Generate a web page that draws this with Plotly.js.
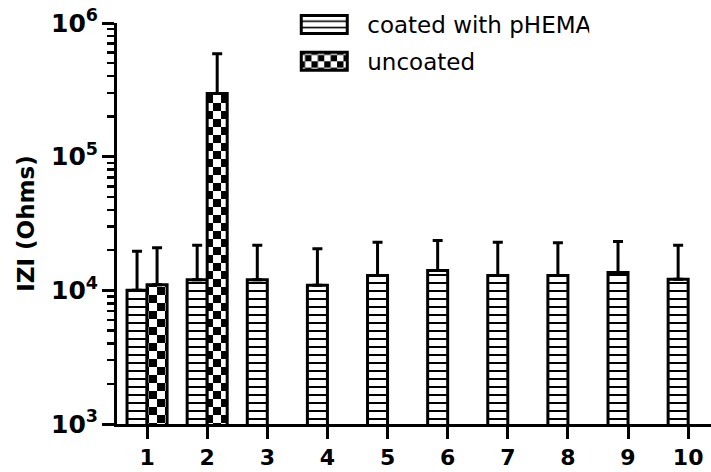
<!DOCTYPE html>
<html>
<head>
<meta charset="utf-8">
<script src="https://cdn.plot.ly/plotly-3.0.1.min.js"></script>
<style>
html,body{margin:0;padding:0;background:#fff;}
#chart{width:711px;height:472px;}
</style>
</head>
<body>
<div id="chart"></div>
<script>
// ---- data ----
const categories = [1, 2, 3, 4, 5, 6, 7, 8, 9, 10];
const tickLabels = ['1', '2', '3', '4', '5', '6', '7', '8', '9', '10'];
const seriesNames = ['coated with pHEMA', 'uncoated'];
const coatedValues = [1.0e4, 1.2e4, 1.2e4, 1.09e4, 1.29e4, 1.41e4, 1.29e4, 1.29e4, 1.36e4, 1.21e4];
const coatedErrors = [0.96e4, 0.97e4, 0.97e4, 0.96e4, 1.0e4, 0.95e4, 1.0e4, 0.98e4, 0.96e4, 0.96e4];
const uncoatedValues = [1.10e4, 2.97e5, null, null, null, null, null, null, null, null];
const uncoatedErrors = [0.98e4, 2.93e5, null, null, null, null, null, null, null, null];
const zeros = categories.map(() => 0);

const boldFont = {family: 'DejaVu Sans', color: '#000', weight: 'bold'};

const traces = [
  {
    type: 'bar', name: seriesNames[0], x: categories, y: coatedValues,
    legendgroup: 'a',
    marker: {
      color: '#fff',
      line: {color: '#000', width: 3},
      pattern: {shape: '-', size: 8, solidity: 0.25, fgcolor: '#000', bgcolor: '#fff', fillmode: 'replace'}
    },
    error_y: {type: 'data', symmetric: false, array: coatedErrors, arrayminus: zeros, color: '#000', thickness: 3, width: 5}
  },
  {
    type: 'bar', name: seriesNames[1], x: categories, y: uncoatedValues,
    legendgroup: 'b',
    marker: {
      color: '#fff',
      line: {color: '#000', width: 3},
      pattern: {shape: 'x', size: 16, solidity: 0.5, fgcolor: '#000', bgcolor: '#fff', fillmode: 'replace'}
    },
    error_y: {type: 'data', symmetric: false, array: uncoatedErrors, arrayminus: zeros, color: '#000', thickness: 3, width: 5}
  }
];

const layout = {
  width: 711, height: 472,
  margin: {l: 117, r: 0, t: 23, b: 48, pad: 0},
  paper_bgcolor: '#fff', plot_bgcolor: '#fff',
  barmode: 'group', bargap: 0.334, bargroupgap: 0,
  showlegend: true,
  legend: {
    x: 0.29, y: 1.05, xanchor: 'left', yanchor: 'top',
    font: {family: 'DejaVu Sans', size: 23, color: '#000'},
    itemwidth: 60, tracegroupgap: 4, bgcolor: 'rgba(0,0,0,0)', borderwidth: 0
  },
  xaxis: {
    range: [0.5, 10.38], tickmode: 'array', tickvals: categories, ticktext: tickLabels,
    showline: true, linecolor: '#000', linewidth: 3,
    ticks: 'outside', ticklen: 12, tickwidth: 3, tickcolor: '#000',
    showgrid: false, zeroline: false,
    tickfont: Object.assign({size: 22}, boldFont)
  },
  yaxis: {
    type: 'log', range: [3, 6], dtick: 1, exponentformat: 'power',
    showline: true, linecolor: '#000', linewidth: 3,
    ticks: 'outside', ticklen: 12, tickwidth: 3, tickcolor: '#000',
    minor: {ticks: 'outside', ticklen: 7, tickwidth: 2.5, tickcolor: '#000', dtick: 'D1', showgrid: false},
    showgrid: false, zeroline: false,
    tickfont: Object.assign({size: 20}, boldFont),
    title: {text: 'IZI (Ohms)', font: Object.assign({size: 23}, boldFont), standoff: 10}
  }
};

function postProcess() {
  const gd = document.getElementById('chart');
  const NS = 'http://www.w3.org/2000/svg';
  // enlarge legend symbols
  gd.querySelectorAll('.legend .legendpoints path').forEach(p => {
    p.setAttribute('d', 'M23,9H-23V-9H23Z');
  });
  // shift legend texts a little to the right of the bigger symbols
  gd.querySelectorAll('.legend .legendtext').forEach(t => {
    const x = parseFloat(t.getAttribute('x') || '0');
    t.setAttribute('x', x + 8);
  });
  // checkerboard pattern for the "uncoated" series
  const paths = [];
  const barTraces = gd.querySelectorAll('.barlayer .trace');
  if (barTraces[1]) barTraces[1].querySelectorAll('path').forEach(p => paths.push(p));
  const legItems = gd.querySelectorAll('.legend .traces');
  if (legItems[1]) legItems[1].querySelectorAll('.legendpoints path').forEach(p => paths.push(p));
  const ids = new Set();
  paths.forEach(p => {
    const f = p.style.fill || p.getAttribute('fill') || '';
    const m = f.match(/#([^'")]+)/);
    if (m) ids.add(m[1]);
  });
  ids.forEach(id => {
    const pat = document.getElementById(id);
    if (!pat) return;
    const s = 8;
    pat.setAttribute('width', 2 * s);
    pat.setAttribute('height', 2 * s);
    pat.setAttribute('patternUnits', 'userSpaceOnUse');
    while (pat.firstChild) pat.removeChild(pat.firstChild);
    const mk = (x, y, w, h, c) => {
      const r = document.createElementNS(NS, 'rect');
      r.setAttribute('x', x); r.setAttribute('y', y);
      r.setAttribute('width', w); r.setAttribute('height', h);
      r.setAttribute('fill', c);
      pat.appendChild(r);
    };
    mk(0, 0, 2 * s, 2 * s, '#fff');
    mk(0, 0, s, s, '#000');
    mk(s, s, s, s, '#000');
  });
}

Plotly.newPlot('chart', traces, layout, {staticPlot: true, displayModeBar: false}).then(postProcess);
</script>
</body>
</html>
